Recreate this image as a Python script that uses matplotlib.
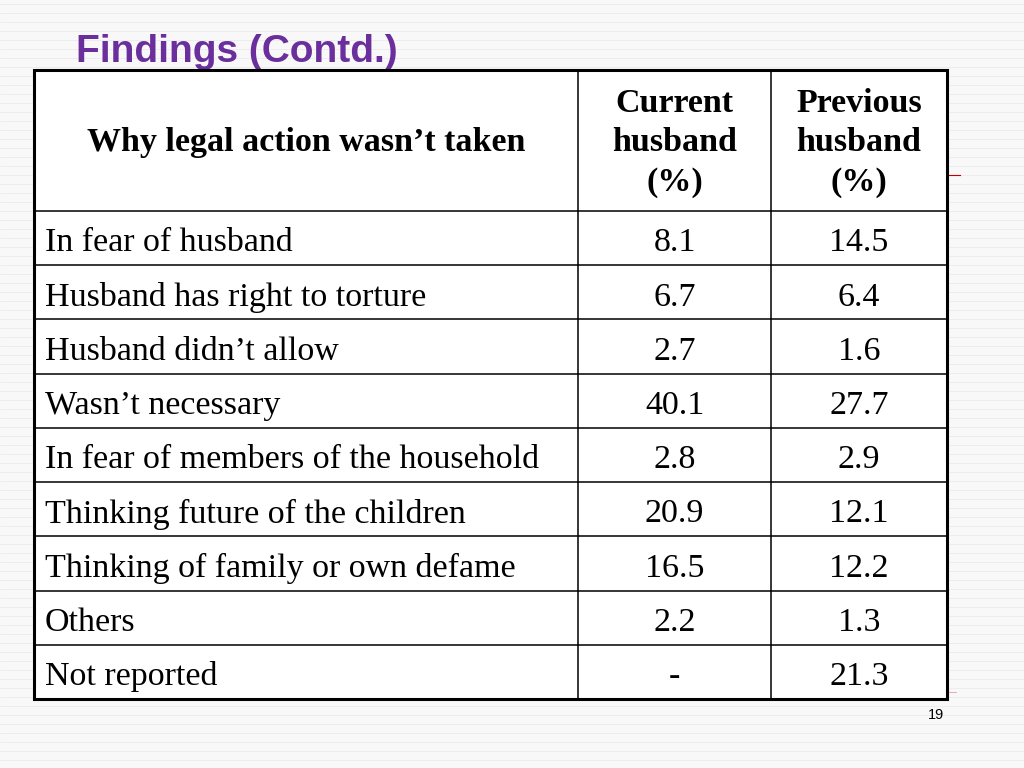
import matplotlib
matplotlib.use("Agg")
import matplotlib.pyplot as plt

title = "Findings (Contd.)"
header = ["Why legal action wasn\u2019t taken", "Current\nhusband\n(%)", "Previous\nhusband\n(%)"]
categories = ["In fear of husband", "Husband has right to torture", "Husband didn\u2019t allow",
              "Wasn\u2019t necessary", "In fear of members of the household",
              "Thinking future of the children", "Thinking of family or own defame",
              "Others", "Not reported"]
current = ["8.1", "6.7", "2.7", "40.1", "2.8", "20.9", "16.5", "2.2", "-"]
previous = ["14.5", "6.4", "1.6", "27.7", "2.9", "12.1", "12.2", "1.3", "21.3"]
page = "19"

fig = plt.figure(figsize=(10.24, 7.68), dpi=100)
fig.patch.set_facecolor("#f8f8f8")
ax = fig.add_axes([0, 0, 1, 1])
ax.set_xlim(0, 1024)
ax.set_ylim(768, 0)
ax.axis("off")

# faint background texture lines
for y in range(4, 768, 9):
    ax.plot([0, 1024], [y, y], color="#ececec", lw=0.6, zorder=0)

L, R, T, B = 34, 947, 70, 699
c1, c2 = 578, 771
hb = 211
n = len(categories)
rh = (B - hb) / n

ax.add_patch(plt.Rectangle((L, T), R - L, B - T, facecolor="white", edgecolor="none", zorder=1))

serif = "Liberation Serif"
fs = 24.5
# header
ax.text((L + c1) / 2, 143, header[0], fontfamily=serif, fontsize=fs, fontweight="bold",
        ha="center", va="center", zorder=3)
ax.text((c1 + c2) / 2, 143, header[1], fontfamily=serif, fontsize=fs, fontweight="bold",
        ha="center", va="center", linespacing=1.33, zorder=3)
ax.text((c2 + R) / 2, 143, header[2], fontfamily=serif, fontsize=fs, fontweight="bold",
        ha="center", va="center", linespacing=1.33, zorder=3)

for i, (cat, cu, pr) in enumerate(zip(categories, current, previous)):
    yc = hb + (i + 0.5) * rh + 5
    ax.text(L + 11, yc, cat, fontfamily=serif, fontsize=fs, ha="left", va="center", zorder=3)
    ax.text((c1 + c2) / 2, yc, cu, fontfamily=serif, fontsize=fs, ha="center", va="center", zorder=3)
    ax.text((c2 + R) / 2, yc, pr, fontfamily=serif, fontsize=fs, ha="center", va="center", zorder=3)
    if i > 0:
        y = hb + i * rh
        ax.plot([L, R], [y, y], color="black", lw=1.1, zorder=2)

ax.plot([L, R], [hb, hb], color="black", lw=1.1, zorder=2)
ax.plot([c1, c1], [T, B], color="black", lw=1.1, zorder=2)
ax.plot([c2, c2], [T, B], color="black", lw=1.1, zorder=2)
ax.add_patch(plt.Rectangle((L, T), R - L, B - T, facecolor="none", edgecolor="black", lw=2.2, zorder=4))

# small red marks at right edge
ax.plot([948, 960], [175, 175], color="#c00000", lw=0.8, zorder=2)
ax.plot([948, 956], [692, 692], color="#e0a0a0", lw=0.6, zorder=2)

ax.text(76, 52, title, fontfamily="Liberation Sans", fontsize=28, fontweight="bold",
        color="#6a2f9c", ha="left", va="center", zorder=3)
ax.text(936, 715, page, fontfamily="Liberation Sans", fontsize=10.5, ha="center", va="center", zorder=3)

fig.savefig("out.png", dpi=100, facecolor=fig.get_facecolor())
